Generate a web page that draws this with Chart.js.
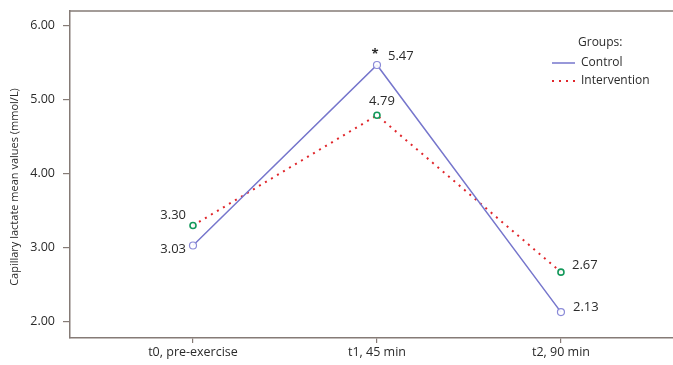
<!DOCTYPE html>
<html>
<head>
<meta charset="utf-8">
<script src="https://cdn.jsdelivr.net/npm/chart.js@4.4.1/dist/chart.umd.min.js"></script>
<style>
html,body{margin:0;padding:0;background:#ffffff;}
#wrap{width:673px;height:365px;position:relative;}
canvas{display:block;}
</style>
</head>
<body>
<div id="wrap"><canvas id="c" width="673" height="365"></canvas></div>
<script>
// ---- data ----
const categories = ["t0, pre-exercise", "t1, 45 min", "t2, 90 min"];
const controlValues = [3.03, 5.47, 2.13];
const interventionValues = [3.30, 4.79, 2.67];
const yTicks = [2, 3, 4, 5, 6];
const seriesNames = ["Control", "Intervention"];
const legendTitle = "Groups:";
const yTitle = "Capillary lactate mean values (mmol/L)";
const significanceMark = "*";

// ---- styling / label placement (not data) ----
const FONT = "'Open Sans', 'Liberation Sans', sans-serif";
const frameColor = "#857b76";
const textColor = "#2b2b2b";
const labelOffsets = [
  [[-7, 4, 'right'], [11, -9, 'left'], [12, -5, 'left']],
  [[-7, -10, 'right'], [5, -14, 'center'], [11, -7, 'left']]
];

const overlay = {
  id: 'overlay',
  afterDatasetsDraw(chart) {
    const ctx = chart.ctx;
    const ca = chart.chartArea;
    ctx.save();
    // top frame line
    ctx.strokeStyle = frameColor;
    ctx.lineWidth = 1.5;
    ctx.beginPath();
    ctx.moveTo(ca.left - 0.75, ca.top);
    ctx.lineTo(ca.right, ca.top);
    ctx.stroke();

    // value labels
    ctx.font = "13px " + FONT;
    ctx.fillStyle = textColor;
    ctx.textBaseline = 'middle';
    chart.data.datasets.forEach((ds, di) => {
      const meta = chart.getDatasetMeta(di);
      meta.data.forEach((pt, i) => {
        const o = labelOffsets[di][i];
        ctx.textAlign = o[2];
        ctx.fillText(ds.data[i].y.toFixed(2), pt.x + o[0], pt.y + o[1]);
      });
    });
    const p = chart.getDatasetMeta(0).data[1];
    ctx.font = "bold 13px " + FONT;
    ctx.textAlign = 'center';
    ctx.fillText(significanceMark, p.x - 2, p.y - 11);

    // y axis title
    ctx.save();
    ctx.translate(15, 187);
    ctx.rotate(-Math.PI / 2);
    ctx.font = "11px " + FONT;
    ctx.textAlign = 'center';
    ctx.fillStyle = textColor;
    ctx.fillText(yTitle, 0, 0);
    ctx.restore();

    // legend
    ctx.font = "12px " + FONT;
    ctx.textAlign = 'left';
    ctx.fillStyle = textColor;
    ctx.fillText(legendTitle, 578, 43);
    const rows = [63, 81];
    chart.data.datasets.forEach((ds, di) => {
      ctx.strokeStyle = ds.borderColor;
      ctx.lineWidth = ds.borderWidth;
      ctx.setLineDash(ds.borderDash || []);
      ctx.beginPath();
      ctx.moveTo(552, rows[di]);
      ctx.lineTo(575, rows[di]);
      ctx.stroke();
      ctx.setLineDash([]);
      ctx.fillText(ds.label, 581, rows[di]);
    });
    ctx.restore();
  },
  afterDraw(chart) {
    // the frame is open on the right side
    const ctx = chart.ctx;
    const ca = chart.chartArea;
    ctx.save();
    ctx.fillStyle = '#ffffff';
    ctx.fillRect(chart.width - 3.5, ca.top + 1, 4, ca.bottom - ca.top - 2);
    ctx.restore();
  }
};

new Chart(document.getElementById('c'), {
  type: 'line',
  data: {
    datasets: [
      {
        label: seriesNames[0],
        data: controlValues.map((v, i) => ({ x: i, y: v })),
        borderColor: '#7676cc',
        borderWidth: 1.5,
        pointRadius: 3.5,
        pointBorderWidth: 1.2,
        pointBorderColor: '#8a8ad8',
        pointBackgroundColor: 'rgba(255,255,255,0.9)',
        tension: 0,
        fill: false
      },
      {
        label: seriesNames[1],
        data: interventionValues.map((v, i) => ({ x: i, y: v })),
        borderColor: '#e0262b',
        borderWidth: 2,
        borderDash: [2, 5],
        pointRadius: 3,
        pointBorderWidth: 1.6,
        pointBorderColor: '#13985a',
        pointBackgroundColor: 'rgba(255,255,255,0.9)',
        tension: 0,
        fill: false
      }
    ]
  },
  options: {
    responsive: false,
    animation: false,
    layout: { autoPadding: false, padding: 0 },
    plugins: { legend: { display: false }, tooltip: { enabled: false } },
    scales: {
      x: {
        type: 'linear',
        min: -0.6685,
        max: 2.609,
        afterBuildTicks(scale) { scale.ticks = [0, 1, 2].map(v => ({ value: v })); },
        afterFit(scale) { scale.height = 27; scale.paddingLeft = 0; scale.paddingRight = 0; },
        ticks: {
          callback: (v) => categories[v],
          font: { family: FONT, size: 12.5 },
          color: textColor,
          padding: 2,
          maxRotation: 0,
          autoSkip: false
        },
        grid: { display: true, drawOnChartArea: false, drawTicks: true, tickLength: 5, color: frameColor, lineWidth: 1.2 },
        border: { display: true, color: frameColor, width: 1.5 }
      },
      y: {
        min: 1.78,
        max: 6.2,
        afterBuildTicks(scale) { scale.ticks = yTicks.map(v => ({ value: v })); },
        afterFit(scale) { scale.width = 70; scale.paddingTop = 11; scale.paddingBottom = 0; },
        ticks: {
          callback: (v) => v.toFixed(2),
          font: { family: FONT, size: 12.5 },
          color: textColor,
          padding: 8
        },
        grid: { display: true, drawOnChartArea: false, drawTicks: true, tickLength: 7, color: frameColor, lineWidth: 1.2 },
        border: { display: true, color: frameColor, width: 1.5 }
      }
    }
  },
  plugins: [overlay]
});
</script>
</body>
</html>
